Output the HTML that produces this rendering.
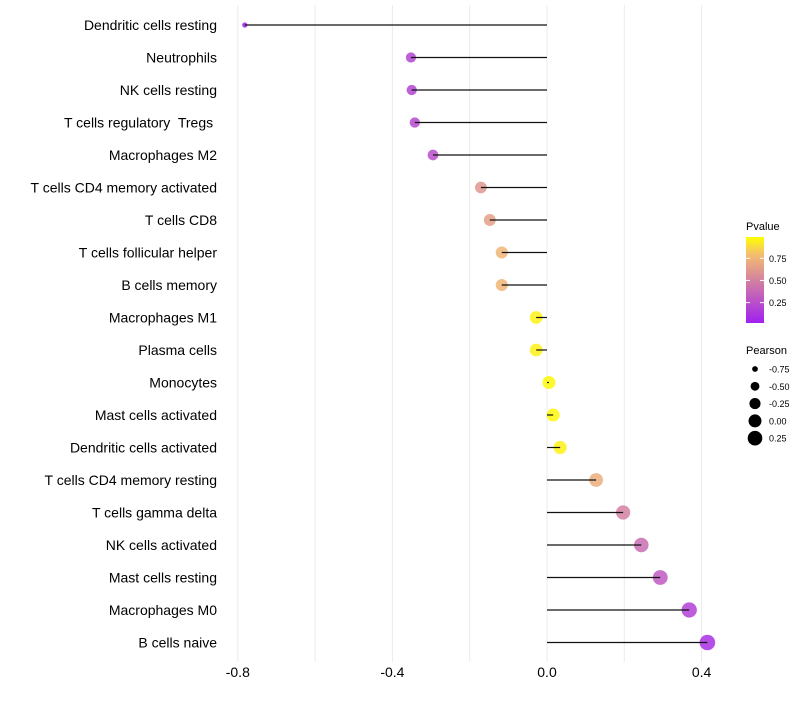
<!DOCTYPE html>
<html><head><meta charset="utf-8"><style>
body{margin:0;background:#fff;font-family:"Liberation Sans",sans-serif}
text{white-space:pre}
</style></head><body>
<svg id="chart" width="800" height="700" xmlns="http://www.w3.org/2000/svg"></svg>
<script>
const categories=["Dendritic cells resting","Neutrophils","NK cells resting","T cells regulatory  Tregs ","Macrophages M2","T cells CD4 memory activated","T cells CD8","T cells follicular helper","B cells memory","Macrophages M1","Plasma cells","Monocytes","Mast cells activated","Dendritic cells activated","T cells CD4 memory resting","T cells gamma delta","NK cells activated","Mast cells resting","Macrophages M0","B cells naive"];
const pearson=[-0.782,-0.352,-0.35,-0.342,-0.295,-0.171,-0.148,-0.117,-0.117,-0.028,-0.028,0.005,0.016,0.034,0.127,0.197,0.244,0.293,0.368,0.415];
const pvalues=[0.02,0.2,0.2,0.22,0.25,0.6,0.65,0.75,0.75,0.95,0.95,0.97,0.97,0.95,0.72,0.5,0.4,0.3,0.18,0.1];
const xTicks=[-0.8,-0.4,0.0,0.4];
const xTickLabels=["-0.8","-0.4","0.0","0.4"];
const xGrid=[-0.8,-0.6,-0.4,-0.2,0,0.2,0.4];
const pTicks=[0.25,0.5,0.75];
const pTickLabels=["0.25","0.50","0.75"];
const sizeTicks=[-0.75,-0.5,-0.25,0,0.25];
const sizeTickLabels=["-0.75","-0.50","-0.25","0.00","0.25"];

const svg=document.getElementById('chart');
const NS="http://www.w3.org/2000/svg";
function mk(t,a,p){const e=document.createElementNS(NS,t);for(const k in a)e.setAttribute(k,a[k]);(p||svg).appendChild(e);return e;}
const x=v=>547+(v)*386.5;
const y=i=>25+i*32.5;
const rad=v=>Math.sqrt(Math.max(3.5,42+45*v));
const pMin=0.02,pMax=0.99;
const stops=[[0,[160,32,240]],[0.5,[212,130,160]],[0.8,[245,190,110]],[1,[255,255,0]]];
function col(p){let t=(p-pMin)/(pMax-pMin);t=Math.max(0,Math.min(1,t));
 for(let i=0;i<stops.length-1;i++){const [a,ca]=stops[i],[b,cb]=stops[i+1];if(t<=b){const f=(t-a)/(b-a);return 'rgb('+ca.map((c,j)=>Math.round(c+(cb[j]-c)*f)).join(',')+')';}}
 return 'rgb(255,255,0)';}

const grid=mk('g',{});
xGrid.forEach(v=>{const l=mk('line',{x1:x(v),x2:x(v),y1:5,y2:662,stroke:'#ebebeb','stroke-width':1},grid);
 });

categories.forEach((c,i)=>{
 const t=mk('text',{x:217,y:y(i)+5,'text-anchor':'end','font-size':14,fill:'#000'});t.textContent=c;
 
 const pt=mk('circle',{cx:x(pearson[i]),cy:y(i),r:rad(pearson[i]),fill:col(pvalues[i]),'fill-opacity':0.85});
 
 const l=mk('line',{x1:x(0),x2:x(pearson[i]),y1:y(i),y2:y(i),stroke:'#111','stroke-width':1.2});
 
});
xTicks.forEach((v,i)=>{const t=mk('text',{x:x(v),y:677,'text-anchor':'middle','font-size':14,fill:'#000'});t.textContent=xTickLabels[i];
 });

const lg=mk('g',{});
const tt=mk('text',{x:746,y:230,'font-size':11,fill:'#000'},lg);tt.textContent='Pvalue';

const defs=mk('defs',{});const gr=mk('linearGradient',{id:'pg',x1:0,y1:1,x2:0,y2:0},defs);
for(let k=0;k<=10;k++){mk('stop',{offset:k/10,'stop-color':col(pMin+(pMax-pMin)*k/10)},gr);}
const by=p=>323-(p-pMin)/(pMax-pMin)*86;
const bar=mk('rect',{x:746,y:237,width:18,height:86,fill:'url(#pg)'},lg);

pTicks.forEach((p,i)=>{mk('line',{x1:746,x2:750,y1:by(p),y2:by(p),stroke:'#fff'},lg);mk('line',{x1:760,x2:764,y1:by(p),y2:by(p),stroke:'#fff'},lg);
 const t=mk('text',{x:769,y:by(p)+3.5,'font-size':9,fill:'#000'},lg);t.textContent=pTickLabels[i];
 });

const sg=mk('g',{});
const st=mk('text',{x:746,y:354,'font-size':11,fill:'#000'},sg);st.textContent='Pearson';

sizeTicks.forEach((v,i)=>{const cy=369+i*17.3;
 const c=mk('circle',{cx:755,cy:cy,r:rad(v),fill:'#000'},sg);
 const t=mk('text',{x:769,y:cy+3.5,'font-size':9,fill:'#000'},sg);t.textContent=sizeTickLabels[i];
 });
</script>
</body></html>
